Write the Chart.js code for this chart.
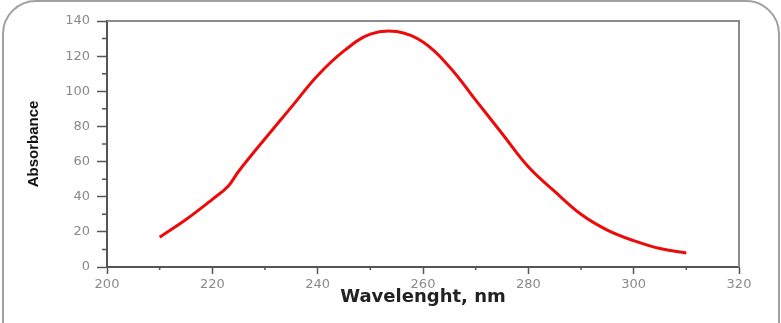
<!DOCTYPE html>
<html>
<head>
<meta charset="utf-8">
<script src="https://cdn.jsdelivr.net/npm/chart.js@4"></script>
<style>
  html, body { margin: 0; padding: 0; background: #fff; overflow: hidden; }
  #wrap { position: relative; width: 781px; height: 323px; }
  #frame {
    position: absolute; left: 2px; top: 0px; width: 774px; height: 420px;
    border: 2px solid #a0a0a0; border-radius: 34px;
  }
  #chartCanvas { position: absolute; left: 0; top: 0; }
</style>
</head>
<body>
<div id="wrap">
  <div id="frame"></div>
  <canvas id="chartCanvas" width="781" height="323"></canvas>
</div>
<script>
// UV spectrum
const wavelengths = [210, 215, 220, 223, 225, 230, 235, 240, 245, 250, 255, 260, 265, 270, 275, 280, 285, 290, 295, 300, 305, 310];
const absorbance = [17, 27, 38.5, 46, 54.5, 73, 91, 109, 123, 132.5, 134, 128, 114, 95, 76, 57, 43, 30, 21, 15, 10.5, 8];

const xMinorTicks = [210, 230, 250, 270, 290, 310];
const yMinorTicks = [10, 30, 50, 70, 90, 110, 130];

const axisColor = '#555555';
const labelColor = '#8a8a8a';

// short minor ticks + top/right frame of the plot box
const framePlugin = {
  id: 'framePlugin',
  afterDraw(chart) {
    const { ctx, chartArea, scales } = chart;
    ctx.save();
    ctx.strokeStyle = '#8c8c8c';
    ctx.lineWidth = 2;
    ctx.beginPath();
    ctx.moveTo(chartArea.left, chartArea.top);
    ctx.lineTo(chartArea.right, chartArea.top);
    ctx.lineTo(chartArea.right, chartArea.bottom);
    ctx.stroke();

    ctx.strokeStyle = axisColor;
    ctx.lineWidth = 1.5;
    ctx.beginPath();
    xMinorTicks.forEach(v => {
      const x = scales.x.getPixelForValue(v);
      ctx.moveTo(x, chartArea.bottom);
      ctx.lineTo(x, chartArea.bottom + 3);
    });
    yMinorTicks.forEach(v => {
      const y = scales.y.getPixelForValue(v);
      ctx.moveTo(chartArea.left, y);
      ctx.lineTo(chartArea.left - 5, y);
    });
    ctx.stroke();
    ctx.restore();
  }
};

const ctx = document.getElementById('chartCanvas').getContext('2d');

new Chart(ctx, {
  type: 'line',
  data: {
    datasets: [{
      data: wavelengths.map((w, i) => ({ x: w, y: absorbance[i] })),
      borderColor: '#ec0a0a',
      borderWidth: 3,
      pointRadius: 0,
      fill: false,
      tension: 0.4
    }]
  },
  options: {
    responsive: false,
    animation: false,
    layout: { padding: { top: 21, right: 42, left: 0, bottom: 0 } },
    plugins: {
      legend: { display: false },
      tooltip: { enabled: false }
    },
    scales: {
      x: {
        type: 'linear',
        min: 200,
        max: 320,
        afterFit: function (scale) { scale.height = 56; },
        ticks: {
          stepSize: 20,
          color: labelColor,
          padding: 3,
          font: { family: 'DejaVu Sans', size: 13 }
        },
        grid: {
          drawOnChartArea: false,
          drawTicks: true,
          tickLength: 7,
          tickWidth: 1.5,
          tickColor: axisColor
        },
        border: { display: true, color: axisColor, width: 2 },
        title: {
          display: true,
          text: 'Wavelenght, nm',
          color: '#222',
          padding: 15,
          font: { family: 'DejaVu Sans', size: 18, weight: 'bold' }
        }
      },
      y: {
        min: 0,
        max: 140,
        afterFit: function (scale) { scale.width = 107; },
        ticks: {
          stepSize: 20,
          color: labelColor,
          padding: 7,
          font: { family: 'DejaVu Sans', size: 13 }
        },
        grid: {
          drawOnChartArea: false,
          drawTicks: true,
          tickLength: 10,
          tickWidth: 1.5,
          tickColor: axisColor
        },
        border: { display: true, color: axisColor, width: 2 },
        title: {
          display: true,
          text: 'Absorbance',
          color: '#111',
          padding: 25,
          font: { family: "'Liberation Sans', sans-serif", size: 15, weight: 'bold' }
        }
      }
    }
  },
  plugins: [framePlugin]
});
</script>
</body>
</html>
